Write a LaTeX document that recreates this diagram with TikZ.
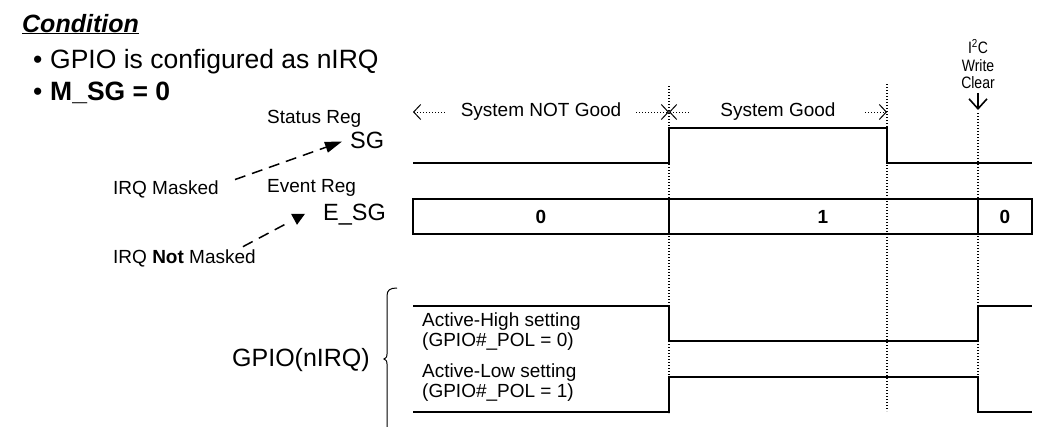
\documentclass[tikz,border=0pt]{standalone}
\usepackage{fontspec}
\setmainfont{Liberation Sans}
\usepackage{graphicx}
\usetikzlibrary{arrows.meta,calc}

\begin{document}
\begin{tikzpicture}[
        x=1pt, y=-1pt,
        lbl/.style={inner sep=0pt, anchor=mid west, font=\fontsize{19}{20}\selectfont},
        big_lbl/.style={inner sep=0pt, anchor=mid west, font=\fontsize{26.5}{30}\selectfont},
        reg_lbl/.style={inner sep=0pt, anchor=mid west, font=\fontsize{23.5}{26}\selectfont},
        bit/.style={inner sep=0pt, font=\bfseries\fontsize{19}{20}\selectfont},
        wave/.style={line width=2.7pt},
        guide/.style={line width=1.2pt, dash pattern=on 1.2pt off 1.8pt},
        span/.style={line width=1pt, dash pattern=on 1pt off 2pt, >={Straight Barb[length=7pt,width=15pt]}, <->},
        span_lbl/.style={fill=white, inner ysep=2pt, font=\fontsize{19}{20}\selectfont},
        irq/.style={line width=1.5pt, dash pattern=on 11pt off 7pt}
    ]

    \useasboundingbox (0,0) rectangle (1041,426);

    % Condition block
    \node[inner sep=0pt, anchor=base west, font=\bfseries\itshape\fontsize{25}{28}\selectfont] (cond) at (22,32) {\underline{Condition}};
    \node[big_lbl] (cfg) at (33,66) {\makebox[17pt][l]{\textbullet}GPIO is configured as nIRQ};
    \node[big_lbl] (msg) at (33,98) {\makebox[17pt][l]{\textbullet}\textbf{M\_SG = 0}};

    % Register names
    \node[lbl] (status) at (267,121) {Status Reg};
    \node[reg_lbl] (sg) at (350,146) {SG};
    \node[lbl] (event) at (267,190) {Event Reg};
    \node[reg_lbl] (esg) at (323,218) {E\_SG};
    \node[lbl] (msk) at (113,192) {IRQ Masked};
    \node[lbl] (nmsk) at (113,261) {IRQ \textbf{Not} Masked};
    \node[inner sep=0pt, anchor=mid west, font=\fontsize{25}{28}\selectfont] (gpio) at (232,364) {GPIO(nIRQ)};

    % Mask arrows
    \draw[irq, -{Triangle[length=17pt,width=11pt]}] ($(msk.east)+(16,-10)$) -- ($(sg.west)+(-8,1)$);
    \coordinate (tip2) at ($(esg.west)+(-26,10)$);
    \draw[irq] ($(nmsk.north east)+(-13,-3)$) -- ($(tip2)+(-9,-2)$);
    \fill (tip2) -- ++(-6,-11) -- ++(14,0) -- cycle;

    % Brace
    \draw[line width=1pt] (397,288) .. controls (390,288) and (387,290) .. (387,296) -- (387,354)
        .. controls (387,357) .. (384,359) .. controls (387,361) .. (387,364) -- (387,430);

    % Time guides
    \draw[guide] (669,86) -- (669,413);
    \draw[guide] (887,84) -- (887,411);
    \draw[guide] (978,113) -- (978,412);

    % System periods
    \draw[span] (413,112) -- node[span_lbl, inner xsep=15pt] (notgood) {System NOT Good} (669,112);
    \draw[span] (669,112) -- node[span_lbl, inner xsep=29pt] (good) {System Good} (887,112);

    % I2C write clear
    \node[align=center, inner sep=0pt, font=\fontsize{16.5}{17.5}\selectfont] (clr) at (978,64)
        {\scalebox{.85}[1]{I\textsuperscript{2}C}\\\scalebox{.85}[1]{Write}\\\scalebox{.85}[1]{Clear}};
    \coordinate (clr_tip) at (978,110);
    \draw[line width=1.6pt, -{Straight Barb[length=10pt,width=18pt]}] ($(clr.south)+(0,4)$) -- (clr_tip);

    % SG waveform
    \draw[wave] (413,163) -- (669,163) -- (669,128) -- (887,128) -- (887,163) -- (1032,163);

    % E_SG bus
    \draw[wave] (413,199) rectangle (1032,234);
    \draw[wave] (669,199) -- (669,234);
    \draw[wave] (978,199) -- (978,234);
    \node[bit] (b0) at (541,217) {0};
    \node[bit] (b1) at (823,217) {1};
    \node[bit] (b2) at (1005,217) {0};

    % GPIO outputs
    \draw[wave] (413,306) -- (669,306) -- (669,341) -- (978,341) -- (978,306) -- (1032,306);
    \draw[wave] (413,412) -- (669,412) -- (669,377) -- (978,377) -- (978,412) -- (1032,412);
    \node[lbl, anchor=west, align=left] (high) at (422,332) {Active-High setting\\(GPIO\#\_POL = 0)};
    \node[lbl, anchor=west, align=left] (low) at (422,383) {Active-Low setting\\(GPIO\#\_POL = 1)};

\end{tikzpicture}
\end{document}
